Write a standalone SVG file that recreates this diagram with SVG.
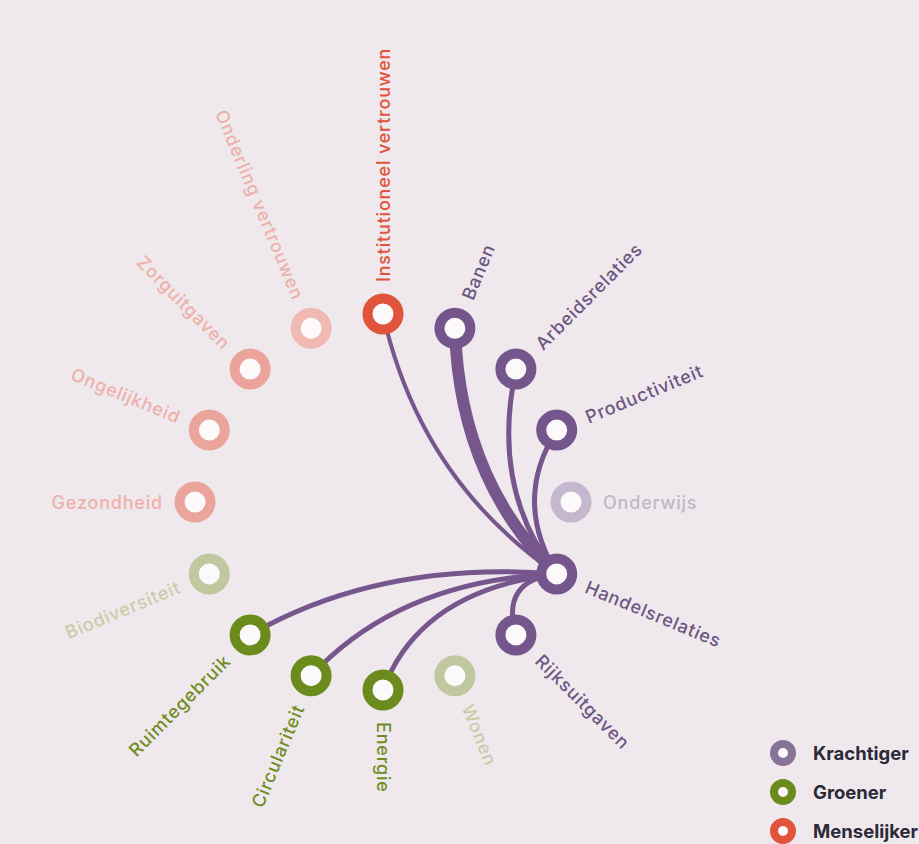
<svg xmlns="http://www.w3.org/2000/svg" width="919" height="844" viewBox="0 0 919 844">
<style>
.lbl{font-family:Inter,"Open Sans","Liberation Sans",sans-serif;font-size:18px;font-weight:500;letter-spacing:0.8px;dominant-baseline:central}
.s{text-anchor:start}.e{text-anchor:end}
.ring{stroke-width:10;fill:#fbf9fa}
.pur{stroke:#75568c}.purL{stroke:#c5b7cd}
.grn{stroke:#6b8b1d}.grnL{stroke:#bfc89f}
.red{stroke:#e1533a}.pnk{stroke:#eba49b}.pnkL{stroke:#f0bab2}
.tpur{fill:#6d5683}.tpurL{fill:#c2b6c9}
.tgrn{fill:#6f8e1f}.tgrnL{fill:#c8cda8}
.tred{fill:#e1533a}.tpnk{fill:#eeb0a8}
.con{fill:none;stroke:#76568d;stroke-linecap:round}
.leg{font-family:Inter,"Open Sans","Liberation Sans",sans-serif;font-size:18.5px;font-weight:700;fill:#2b2a38;dominant-baseline:central}
</style>
<rect width="919" height="844" fill="#efe9ed"/>
<g id="connectors">
<path class="con" stroke-width="4" d="M383,314 Q420,480 557,574"/>
<path class="con" stroke-width="12" d="M455,328 C458,440 500,520 557,574"/>
<path class="con" stroke-width="5" d="M516,369 Q490,490 557,574"/>
<path class="con" stroke-width="5" d="M557,430 Q512,500 557,574"/>
<path class="con" stroke-width="5" d="M250,635 Q380,560 557,574"/>
<path class="con" stroke-width="5" d="M311,676 Q400,580 557,574"/>
<path class="con" stroke-width="5" d="M383,690 Q420,590 557,574"/>
<path class="con" stroke-width="5" d="M516,635 Q500,580 557,574"/>
</g>
<g id="n-institutioneel"><circle class="ring red" cx="383" cy="314" r="15.5"/><text class="lbl s tred" transform="translate(383,282) rotate(-90)">Institutioneel vertrouwen</text></g>
<g id="n-banen"><circle class="ring pur" cx="454.9" cy="328.3" r="15.5"/><text class="lbl s tpur" transform="translate(467.2,298.7) rotate(-67.5)">Banen</text></g>
<g id="n-arbeidsrelaties"><circle class="ring pur" cx="515.9" cy="369.1" r="15.5"/><text class="lbl s tpur" transform="translate(538.6,346.4) rotate(-45)">Arbeidsrelaties</text></g>
<g id="n-productiviteit"><circle class="ring pur" cx="556.7" cy="430.1" r="15.5"/><text class="lbl s tpur" transform="translate(586.3,417.8) rotate(-22.5)">Productiviteit</text></g>
<g id="n-onderwijs"><circle class="ring purL" cx="571" cy="502" r="15.5"/><text class="lbl s tpurL" transform="translate(603,502)">Onderwijs</text></g>
<g id="n-handelsrelaties"><circle class="ring pur" cx="556.7" cy="573.9" r="15.5"/><text class="lbl s tpur" transform="translate(586.3,586.2) rotate(22.5)">Handelsrelaties</text></g>
<g id="n-rijksuitgaven"><circle class="ring pur" cx="515.9" cy="634.9" r="15.5"/><text class="lbl s tpur" transform="translate(538.6,657.6) rotate(45)">Rijksuitgaven</text></g>
<g id="n-wonen"><circle class="ring grnL" cx="454.9" cy="675.7" r="15.5"/><text class="lbl s tgrnL" transform="translate(467.2,705.3) rotate(67.5)">Wonen</text></g>
<g id="n-energie"><circle class="ring grn" cx="383" cy="690" r="15.5"/><text class="lbl s tgrn" transform="translate(383,722) rotate(90)">Energie</text></g>
<g id="n-circulariteit"><circle class="ring grn" cx="311.1" cy="675.7" r="15.5"/><text class="lbl e tgrn" transform="translate(298.8,705.3) rotate(-67.5)">Circulariteit</text></g>
<g id="n-ruimtegebruik"><circle class="ring grn" cx="250.1" cy="634.9" r="15.5"/><text class="lbl e tgrn" transform="translate(227.4,657.6) rotate(-45)">Ruimtegebruik</text></g>
<g id="n-biodiversiteit"><circle class="ring grnL" cx="209.3" cy="573.9" r="15.5"/><text class="lbl e tgrnL" transform="translate(179.7,586.2) rotate(-22.5)">Biodiversiteit</text></g>
<g id="n-gezondheid"><circle class="ring pnk" cx="195" cy="502" r="15.5"/><text class="lbl e tpnk" transform="translate(163,502)">Gezondheid</text></g>
<g id="n-ongelijkheid"><circle class="ring pnk" cx="209.3" cy="430.1" r="15.5"/><text class="lbl e tpnk" transform="translate(179.7,417.8) rotate(22.5)">Ongelijkheid</text></g>
<g id="n-zorguitgaven"><circle class="ring pnk" cx="250.1" cy="369.1" r="15.5"/><text class="lbl e tpnk" transform="translate(227.4,346.4) rotate(45)">Zorguitgaven</text></g>
<g id="n-onderling"><circle class="ring pnkL" cx="311.1" cy="328.3" r="15.5"/><text class="lbl e tpnk" transform="translate(298.8,298.7) rotate(67.5)">Onderling vertrouwen</text></g>
<g id="legend">
<circle cx="783" cy="753" r="9" stroke-width="8" fill="#fbf9fa" stroke="#8a7399"/><text class="leg" x="813" y="753">Krachtiger</text>
<circle cx="783" cy="792" r="9" stroke-width="8" fill="#fbf9fa" stroke="#6b8b1d"/><text class="leg" x="813" y="792">Groener</text>
<circle cx="783" cy="831" r="9" stroke-width="8" fill="#fbf9fa" stroke="#e1533a"/><text class="leg" x="813" y="831">Menselijker</text>
</g>
</svg>
